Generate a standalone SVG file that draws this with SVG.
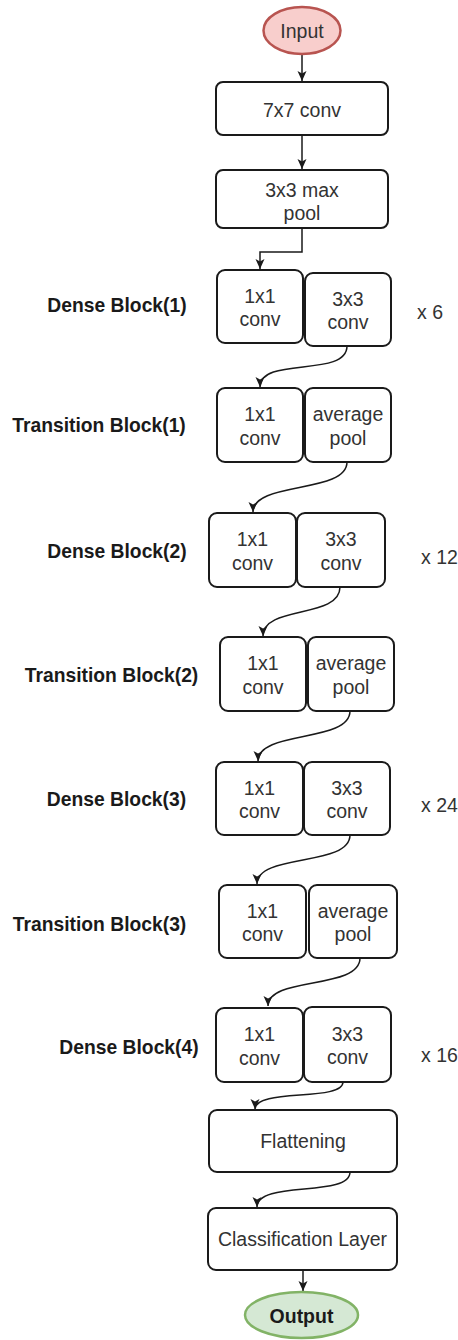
<svg xmlns="http://www.w3.org/2000/svg" width="458" height="1340" viewBox="0 0 458 1340">
<style>
.box{fill:#ffffff;stroke:#1a1a1a;stroke-width:2}
.t{font-family:"Liberation Sans",Arial,sans-serif;font-size:19.5px;fill:#333333;text-anchor:middle}
.lbl{font-family:"Liberation Sans",Arial,sans-serif;font-size:19.3px;font-weight:bold;fill:#1a1a1a;text-anchor:middle}
.rep{font-family:"Liberation Sans",Arial,sans-serif;font-size:19.5px;fill:#333333}
.conn{fill:none;stroke:#1a1a1a;stroke-width:1.5;marker-end:url(#arr)}
</style>
<defs>
<marker id="arr" markerWidth="10" markerHeight="10" refX="10" refY="5" orient="auto" markerUnits="userSpaceOnUse">
<path d="M0,0.5 L10,5 L0,9.5 L2.5,5 z" fill="#1a1a1a"/>
</marker>
</defs>
<rect width="458" height="1340" fill="#ffffff"/>

<g id="connectors">
<path class="conn" d="M302,55 L302,81"/>
<path class="conn" d="M302,136 L302,169"/>
<path class="conn" d="M302,228 L302,252 L260,252 L260,269"/>
<path class="conn" d="M347,346 C347,378 260,356 260,387"/>
<path class="conn" d="M347,462 C347,494 253,481 253,512"/>
<path class="conn" d="M340,587 C340,619 263,605 263,636"/>
<path class="conn" d="M350,711 C350,743 258,730 258,761"/>
<path class="conn" d="M350,835 C350,867 257,853 257,884"/>
<path class="conn" d="M360,958 C360,990 268,976 268,1006"/>
<path class="conn" d="M343,1082 C343,1102 255,1088 255,1109"/>
<path class="conn" d="M350,1172 C350,1198 257,1180 257,1207"/>
<path class="conn" d="M303,1270 L303,1291"/>
</g>

<g id="input">
<ellipse cx="302" cy="30.5" rx="38.5" ry="23.5" fill="#f8cecc" stroke="#b85450" stroke-width="2.5"/>
<text class="t" x="302" y="37.5">Input</text>
</g>

<g id="conv7">
<rect class="box" x="216" y="82" width="172" height="53" rx="7"/>
<text class="t" x="302" y="116.5">7x7 conv</text>
</g>

<g id="maxpool">
<rect class="box" x="216" y="170" width="172" height="58" rx="7"/>
<text class="t" x="302" y="196.5">3x3 max</text>
<text class="t" x="302" y="220">pool</text>
</g>

<g id="dense1">
<text class="lbl" x="117" y="312">Dense Block(1)</text>
<rect class="box" x="217" y="270" width="86" height="73" rx="8"/>
<text class="t" x="260" y="302.7">1x1</text>
<text class="t" x="260" y="326">conv</text>
<rect class="box" x="305" y="273" width="86" height="73" rx="8"/>
<text class="t" x="348" y="305.7">3x3</text>
<text class="t" x="348" y="329">conv</text>
<text class="rep" x="417" y="318.5">x 6</text>
</g>

<g id="trans1">
<text class="lbl" x="99" y="432">Transition Block(1)</text>
<rect class="box" x="217" y="388" width="86" height="74" rx="8"/>
<text class="t" x="260" y="421.2">1x1</text>
<text class="t" x="260" y="444.6">conv</text>
<rect class="box" x="305" y="388" width="86" height="74" rx="8"/>
<text class="t" x="348" y="421.2">average</text>
<text class="t" x="348" y="444.6">pool</text>
</g>

<g id="dense2">
<text class="lbl" x="117" y="558">Dense Block(2)</text>
<rect class="box" x="209" y="513" width="87" height="74" rx="8"/>
<text class="t" x="252.5" y="546.2">1x1</text>
<text class="t" x="252.5" y="569.6">conv</text>
<rect class="box" x="297" y="513" width="88" height="74" rx="8"/>
<text class="t" x="341" y="546.2">3x3</text>
<text class="t" x="341" y="569.6">conv</text>
<text class="rep" x="421" y="563.5">x 12</text>
</g>

<g id="trans2">
<text class="lbl" x="111.5" y="682">Transition Block(2)</text>
<rect class="box" x="220" y="637" width="86" height="74" rx="8"/>
<text class="t" x="263" y="670.2">1x1</text>
<text class="t" x="263" y="693.6">conv</text>
<rect class="box" x="308" y="637" width="86" height="74" rx="8"/>
<text class="t" x="351" y="670.2">average</text>
<text class="t" x="351" y="693.6">pool</text>
</g>

<g id="dense3">
<text class="lbl" x="116.5" y="806">Dense Block(3)</text>
<rect class="box" x="216" y="762" width="87" height="73" rx="8"/>
<text class="t" x="259.5" y="794.7">1x1</text>
<text class="t" x="259.5" y="818">conv</text>
<rect class="box" x="304" y="762" width="86" height="73" rx="8"/>
<text class="t" x="347" y="794.7">3x3</text>
<text class="t" x="347" y="818">conv</text>
<text class="rep" x="421" y="812">x 24</text>
</g>

<g id="trans3">
<text class="lbl" x="99.5" y="931">Transition Block(3)</text>
<rect class="box" x="219" y="885" width="87" height="73" rx="8"/>
<text class="t" x="262.5" y="917.7">1x1</text>
<text class="t" x="262.5" y="941">conv</text>
<rect class="box" x="309" y="885" width="88" height="73" rx="8"/>
<text class="t" x="353" y="917.7">average</text>
<text class="t" x="353" y="941">pool</text>
</g>

<g id="dense4">
<text class="lbl" x="129" y="1054">Dense Block(4)</text>
<rect class="box" x="216" y="1008" width="87" height="74" rx="8"/>
<text class="t" x="259.5" y="1041.2">1x1</text>
<text class="t" x="259.5" y="1064.6">conv</text>
<rect class="box" x="304" y="1007" width="87" height="75" rx="8"/>
<text class="t" x="347.5" y="1040.7">3x3</text>
<text class="t" x="347.5" y="1064.1">conv</text>
<text class="rep" x="421" y="1061.5">x 16</text>
</g>

<g id="flatten">
<rect class="box" x="209" y="1110" width="188" height="62" rx="8"/>
<text class="t" x="303" y="1148">Flattening</text>
</g>

<g id="classify">
<rect class="box" x="208" y="1208" width="189" height="62" rx="8"/>
<text class="t" x="302.5" y="1246">Classification Layer</text>
</g>

<g id="output">
<ellipse cx="301.5" cy="1315" rx="56.5" ry="23" fill="#d5e8d4" stroke="#82b366" stroke-width="2.5"/>
<text class="lbl" x="301.5" y="1323" style="font-size:19.5px">Output</text>
</g>
</svg>
